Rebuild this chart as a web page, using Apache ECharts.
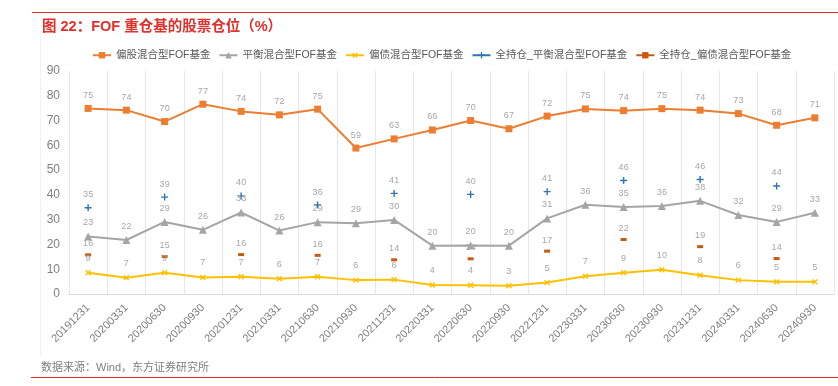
<!DOCTYPE html>
<html><head><meta charset="utf-8">
<script src="https://cdn.jsdelivr.net/npm/echarts@6/dist/echarts.min.js"></script>
<style>html,body{margin:0;padding:0;background:#fff}#c{width:838px;height:386px}</style>
</head><body><div id="c"></div>
<script>
var categories = ['20191231','20200331','20200630','20200930','20201231','20210331','20210630','20210930','20211231','20220331','20220630','20220930','20221231','20230331','20230630','20230930','20231231','20240331','20240630','20240930'];
var equityHybrid = [74.9,74.2,69.6,76.6,73.7,72.3,74.6,58.9,62.6,66.2,70.0,66.7,71.8,74.7,74.0,74.8,74.2,72.8,68.1,71.1];
var balancedHybrid = [23.2,21.8,29.1,25.9,32.9,25.6,29.0,28.6,29.9,19.5,19.6,19.5,30.5,36.0,35.1,35.5,37.6,31.9,29.1,32.8];
var bondHybrid = [8.6,6.6,8.6,6.7,7.0,6.2,7.0,5.6,5.8,3.6,3.5,3.3,4.6,7.2,8.6,9.8,7.6,5.6,4.9,4.9];
var fullBalanced = [34.8,null,39.1,null,39.6,null,35.9,null,40.6,null,40.2,null,41.3,null,45.8,null,46.2,null,43.6,null];
var fullBond = [15.8,null,15.1,null,15.9,null,15.6,null,13.8,null,14.2,null,17.3,null,22.0,null,19.1,null,14.3,null];
var seriesNames = ['偏股混合型FOF基金','平衡混合型FOF基金','偏债混合型FOF基金','全持仓_平衡混合型FOF基金','全持仓_偏债混合型FOF基金'];
var yTicks = {min:0, max:90, interval:10};

var FF = '"Liberation Sans","Noto Sans CJK SC",sans-serif';
var labelCfg = {show:true, position:'top', fontSize:9, color:'#A6A6A6', fontFamily:FF, distance:5,
  formatter:function(p){return p.value==null?'':Math.round(p.value);}};
var plusPath = 'path://M4,0h2v4h4v2h-4v4h-2v-4h-4v-2h4z';

var chart = echarts.init(document.getElementById('c'));
chart.setOption({
  animation:false,
  backgroundColor:'#fff',
  textStyle:{fontFamily:FF},
  title:{text:'图 22：FOF 重仓基的股票仓位（%）', left:37, top:15,
    textStyle:{color:'#E0302B', fontSize:14.5, fontWeight:'bold', fontFamily:FF}},
  graphic:[
    {type:'line', shape:{x1:32,y1:12.5,x2:838,y2:12.5}, style:{stroke:'#E0302B', lineWidth:1}},
    {type:'line', shape:{x1:31,y1:377.5,x2:838,y2:377.5}, style:{stroke:'#E0302B', lineWidth:1}},
    {type:'line', shape:{x1:40.5,y1:37,x2:40.5,y2:357}, style:{stroke:'#F2F2F2', lineWidth:1}},
    {type:'text', left:41, top:362, style:{text:'数据来源：Wind，东方证券研究所', fill:'#7F7F7F', fontSize:11, fontFamily:FF}}
  ],
  legend:{left:87, top:45, width:760, itemWidth:18, itemHeight:8, itemGap:8,
    textStyle:{fontSize:10.5, color:'#595959', fontFamily:FF},
    data:seriesNames},
  grid:{left:69, right:4, top:71, bottom:92},
  xAxis:{type:'category', data:categories, boundaryGap:true,
    axisLine:{lineStyle:{color:'#D9D9D9'}}, axisTick:{show:false},
    axisLabel:{rotate:45, fontSize:11, color:'#7F7F7F', interval:0, margin:12, fontFamily:FF},
    splitLine:{show:true, lineStyle:{color:'#E6E6E6'}}},
  yAxis:{type:'value', min:yTicks.min, max:yTicks.max, interval:yTicks.interval,
    axisLine:{show:false}, axisTick:{show:false}, splitLine:{show:false},
    axisLabel:{fontSize:12, color:'#7F7F7F', margin:9, fontFamily:FF}},
  series:[
    {name:seriesNames[0], type:'line', data:equityHybrid, symbol:'rect', symbolSize:7,
      itemStyle:{color:'#ED7D31'}, lineStyle:{width:2, color:'#ED7D31'}, label:labelCfg, z:5},
    {name:seriesNames[1], type:'line', data:balancedHybrid, symbol:'triangle', symbolSize:8,
      itemStyle:{color:'#A5A5A5'}, lineStyle:{width:2, color:'#A5A5A5'}, label:labelCfg, z:4},
    {name:seriesNames[2], type:'line', data:bondHybrid, symbol:plusPath, symbolSize:7, symbolRotate:45,
      itemStyle:{color:'#FFC000'}, lineStyle:{width:2, color:'#FFC000'}, label:labelCfg, z:3},
    {name:seriesNames[3], type:'line', data:fullBalanced, symbol:plusPath, symbolSize:7, connectNulls:false,
      itemStyle:{color:'#2E75B6'}, lineStyle:{width:2, color:'#2E75B6'}, label:labelCfg, z:2},
    {name:seriesNames[4], type:'line', data:fullBond, symbol:'rect', symbolSize:[6,3], connectNulls:false,
      itemStyle:{color:'#C55A11'}, lineStyle:{width:2, color:'#C55A11'}, label:labelCfg, z:2}
  ]
});
</script></body></html>
